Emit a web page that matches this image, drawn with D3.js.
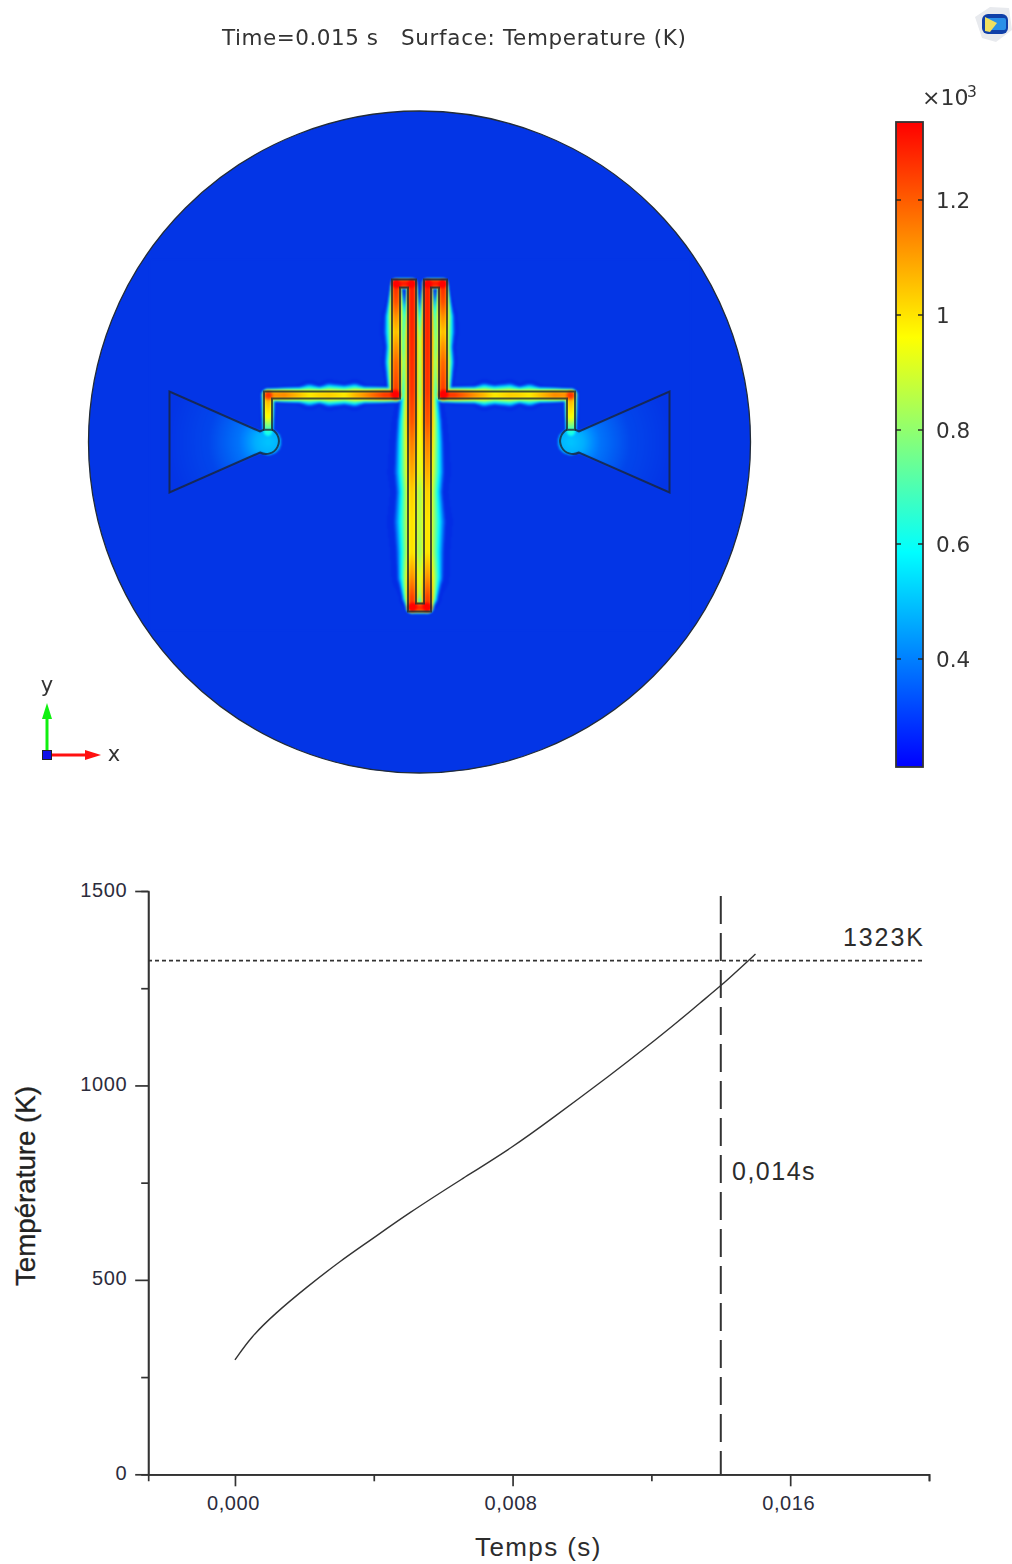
<!DOCTYPE html>
<html><head><meta charset="utf-8">
<script src="https://cdn.jsdelivr.net/npm/d3@7/dist/d3.min.js"></script>
<style>html,body{margin:0;padding:0;background:#fff}svg{display:block}</style>
</head><body>
<svg id="c" width="1012" height="1564"></svg>
<script>
// ---- lower chart data
const curveTime=[0,.00046,.00115,.00202,.00307,.00384,.00499,.00653,.00802,.00908,.0109,.01186,.01282,.0134,.014,.01455,.015];
const curveTemp=[294,353,413,478,551,598,671,759,842,911,1032,1099,1168,1212,1256,1301,1338];
const yMajor=[0,500,1000,1500], yMinor=[250,750,1250];
const xMajor=[0,.008,.016], xMinor=[.004,.012,.02];
const limitTemp=1323, limitTime=.014;
// ---- colour legend data
const barTicks=[.4,.6,.8,1,1.2];
const barRange=[.212,1.336];
const rainbowTemps=[212,587,961,1336];
const rainbowColors=["#0000ff","#00ffff","#ffff00","#ff0000"];
const fieldTemps=[212,293,420,587,961,1336];
const fieldColors=["#0000e0","#0335e6","#0082ff","#00ffff","#ffff00","#ff0000"];
const ambient=293;
// ---- heated trace, model units: centre line x, y, temperature (K), halo width
const traceX=[-15.15,-15.15,-15.15,-13.5,-12,-11,-10,-9,-7.5,-6.5,-5.5,-3.5,-2.35,-2.35,-2.35,-2.35,-2.35,-2.35,-2.35,-.75,-.75,-.75,-.75,-.75,-.75,-.75,-.75,-.75,-.75,-.75,-.75,.8,.8,.8,.8,.8,.8,.8,.8,.8,.8,.8,.8,2.35,2.35,2.35,2.35,2.35,2.35,2.35,3.5,5.5,6.5,7.5,9,10,11,12,13.5,15.15,15.15,15.15];
const traceY=[1.05,2.5,4.7,4.7,4.7,4.7,4.7,4.7,4.7,4.7,4.7,4.7,4.7,8,9.5,11,12.5,14,15.85,15.85,10,5,2,0,-3,-5,-8,-11,-13.5,-15.5,-16.55,-16.55,-15.5,-13.5,-11,-8,-5,-3,0,2,5,10,15.85,15.85,14,12.5,11,9.5,8,4.7,4.7,4.7,4.7,4.7,4.7,4.7,4.7,4.7,4.7,4.7,2.5,1.05];
const traceT=[640,960,1120,1140,1060,1000,1030,1040,1000,1070,1130,1260,1270,1190,1130,1060,1130,1230,1300,1310,1290,1270,1220,1160,1090,1040,1010,1010,1130,1250,1280,1280,1250,1130,1010,1010,1040,1090,1160,1220,1270,1290,1310,1300,1230,1130,1060,1130,1190,1270,1260,1130,1070,1000,1040,1030,1000,1060,1140,1120,960,640];
const traceHalo=[.2,.25,.3,.38,.45,.75,.5,.8,.62,.8,.5,.45,.38,.75,.62,.8,.75,.45,.15,.15,.75,.75,1.1,1.25,1.38,1.2,1.42,1.2,1.1,.62,.25,.25,.7,1.2,1.25,1.42,1.12,1.3,1.2,1.05,.7,.75,.15,.15,.45,.75,.8,.62,.75,.38,.45,.5,.8,.62,.8,.5,.75,.45,.38,.3,.25,.2];
// conductor outline, model units
const outlineX=[-15.55,-15.55,-2.75,-2.75,-.35,-.35,.45,.45,2.75,2.75,15.55,15.55];
const outlineY=[1.23,5.05,5.05,16.25,16.25,-16.15,-16.15,16.25,16.25,5.05,5.05,1.23];
const innerX=[14.75,14.75,1.95,1.95,1.15,1.15,-1.15,-1.15,-1.95,-1.95,-14.75,-14.75];
const innerY=[1.23,4.35,4.35,15.45,15.45,-16.95,-16.95,15.45,15.45,4.35,4.35,1.23];
// triangular pads and bulb
const padX=[-15.95,-25,-25,-15.95], padY=[1.05,5.05,-5.05,-1.05];
const bulbX=15.1, bulbR=1.28;
const padDist=[0,1.3,3,6,10], padTemp=[510,480,395,320,293];

const diskR=33.1;
const svg=d3.select("#c");
const mx=d3.scaleLinear().domain([-diskR,diskR]).range([88.5,750.5]);
const my=d3.scaleLinear().domain([-diskR,diskR]).range([773,111]);
const barY=d3.scaleLinear().domain(barRange).range([767,122]);
const fieldColor=d3.scaleLinear().domain(fieldTemps).range(fieldColors).clamp(true);
const padT=d3.scaleLinear().domain(padDist).range(padTemp).clamp(true);

const upper=svg.append("g").style("filter","blur(0.55px)");
const ink="#333";
const dj="'DejaVu Sans',sans-serif", ar="'Liberation Sans',Arial,sans-serif";

// title
upper.append("text").attr("x",222).attr("y",45).attr("font-family",dj).attr("font-size",21.5).attr("fill",ink).attr("textLength",156).text("Time=0.015 s");
upper.append("text").attr("x",401).attr("y",45).attr("font-family",dj).attr("font-size",21.5).attr("fill",ink).attr("textLength",285).text("Surface: Temperature (K)");

// ---- field
upper.append("circle").attr("cx",mx(0)).attr("cy",my(0)).attr("r",mx(diskR)-mx(0)).attr("fill",fieldColor(ambient));

const segs=[];
let leg=0;
for(let i=0;i<traceX.length-1;i++){
  const horiz=traceY[i]===traceY[i+1];
  if(i>0&&horiz!==(traceY[i-1]===traceY[i]))leg++;
  segs.push({leg,x0:mx(traceX[i]),y0:my(traceY[i]),x1:mx(traceX[i+1]),y1:my(traceY[i+1]),
    t0:traceT[i],t1:traceT[i+1],h0:(mx(traceHalo[i])-mx(0)),h1:(mx(traceHalo[i+1])-mx(0))});
}
const halfW=4, hx0=150,hy0=260,hw=540,hh=370;
const pads=[padX.map((x,i)=>[mx(x),my(padY[i])]),padX.map((x,i)=>[mx(-x),my(padY[i])])];
const bulbs=[[mx(-bulbX),my(0)],[mx(bulbX),my(0)]];
const cv=document.createElement("canvas");cv.width=hw;cv.height=hh;
const ctx=cv.getContext("2d");const im=ctx.createImageData(hw,hh);
const lut=d3.range(0,1500).map(t=>{const c=d3.rgb(fieldColor(t));return [c.r,c.g,c.b];});
const amb=ambient;
for(let j=0;j<hh;j++)for(let i=0;i<hw;i++){
  const px=hx0+i+.5,py=hy0+j+.5;
  let acc=0,fringe=0,cur=-1,best=0;
  for(const s of segs){
    if(s.leg!==cur){acc+=best*best*best*best;best=0;cur=s.leg;}
    const dx=s.x1-s.x0,dy=s.y1-s.y0;
    const u=Math.max(0,Math.min(1,((px-s.x0)*dx+(py-s.y0)*dy)/(dx*dx+dy*dy)));
    const qx=s.x0+u*dx,qy=s.y0+u*dy;
    const d=Math.hypot(px-qx,py-qy);
    if(d>28)continue;
    const tc=s.t0+u*(s.t1-s.t0),h=s.h0+u*(s.h1-s.h0);
    let f=0;
    if(d<=halfW) f=1-.12*(d/halfW)*(d/halfW);
    else{
      const r=(d-halfW)/h;
      if(r<1) f=.88*(1-r);
      else if(r<1.5) fringe=1;
    }
    if(f>0)best=Math.max(best,(tc-amb)*f);
  }
  acc+=best*best*best*best;
  let T=amb+Math.min(1050,Math.sqrt(Math.sqrt(acc)));
  if(acc===0&&fringe)T=amb-14;
  for(let k=0;k<2;k++){
    if(d3.polygonContains(pads[k],[px,py])||Math.hypot(px-bulbs[k][0],py-bulbs[k][1])<=bulbR*10){
      const pd=Math.hypot(px-bulbs[k][0],py-bulbs[k][1])/10;
      T=Math.max(T,padT(pd));
    }
  }
  const c=lut[Math.max(0,Math.min(1499,Math.round(T)))];
  const o=(j*hw+i)*4;im.data[o]=c[0];im.data[o+1]=c[1];im.data[o+2]=c[2];im.data[o+3]=255;
}
ctx.putImageData(im,0,0);
upper.append("image").attr("x",hx0).attr("y",hy0).attr("width",hw).attr("height",hh).attr("href",cv.toDataURL()).style("filter","blur(1px)");

// outlines
const line=d3.line().x(d=>mx(d[0])).y(d=>my(d[1]));
const outlinePts=outlineX.map((x,i)=>[x,outlineY[i]]).concat(innerX.map((x,i)=>[x,innerY[i]]));
const strokeAttrs={fill:"none",stroke:"#1c2430","stroke-width":2,"stroke-opacity":.78};
const sty=(s)=>{for(const k in strokeAttrs)s.attr(k,strokeAttrs[k]);return s;};
sty(upper.append("path").attr("d",line(outlinePts)+"Z").attr("stroke-linejoin","miter"));
const rPx=mx(bulbR)-mx(0);
[-1,1].forEach(side=>{
  const mapped=padX.map((x,i)=>[side<0?x:-x,padY[i]]);
  const trEdge=side<0?-14.75:14.75, tipOuter=side<0?-15.55:15.55;
  let d="M"+mx(tipOuter)+","+my(1.23)+" L"+mx(mapped[0][0])+","+my(mapped[0][1]);
  d+=" L"+mx(mapped[1][0])+","+my(mapped[1][1])+" L"+mx(mapped[2][0])+","+my(mapped[2][1])+" L"+mx(mapped[3][0])+","+my(mapped[3][1]);
  d+=" A"+rPx+","+rPx+" 0 1 "+(side<0?0:1)+" "+mx(trEdge)+","+my(1.23);
  sty(upper.append("path").attr("d",d));
});
upper.append("circle").attr("cx",mx(0)).attr("cy",my(0)).attr("r",mx(diskR)-mx(0)).attr("fill","none").attr("stroke","#222c38").attr("stroke-width",1.3);

// triad
const defs=svg.append("defs");
upper.append("line").attr("x1",47).attr("y1",755).attr("x2",90).attr("y2",755).attr("stroke","#ff1010").attr("stroke-width",3);
upper.append("path").attr("d","M85,750 L101,755 L85,760Z").attr("fill","#ff1010");
upper.append("line").attr("x1",47).attr("y1",755).attr("x2",47).attr("y2",715).attr("stroke","#10f010").attr("stroke-width",3);
upper.append("path").attr("d","M42,719 L47,703 L52,719Z").attr("fill","#10f010");
upper.append("rect").attr("x",42.5).attr("y",750.5).attr("width",9).attr("height",9).attr("fill","#1010e8").attr("stroke","#222").attr("stroke-width",1);
upper.append("text").attr("x",47).attr("y",692).attr("text-anchor","middle").attr("font-family",dj).attr("font-size",21).attr("fill",ink).text("y");
upper.append("text").attr("x",114).attr("y",761).attr("text-anchor","middle").attr("font-family",dj).attr("font-size",21).attr("fill",ink).text("x");

// colour bar
const grad=defs.append("linearGradient").attr("id","bar").attr("x1",0).attr("x2",0).attr("y1",1).attr("y2",0);
rainbowTemps.forEach((t,i)=>grad.append("stop").attr("offset",(t-rainbowTemps[0])/(rainbowTemps[3]-rainbowTemps[0])).attr("stop-color",rainbowColors[i]));
upper.append("rect").attr("x",896).attr("y",122).attr("width",27).attr("height",645).attr("fill","url(#bar)").attr("stroke","#333").attr("stroke-width",1.8);
const barG=upper.append("g");
barTicks.forEach(v=>{
  const yy=Math.round(barY(v));
  barG.append("line").attr("x1",896).attr("x2",901).attr("y1",yy).attr("y2",yy).attr("stroke","#222").attr("stroke-width",1.4);
  barG.append("line").attr("x1",918).attr("x2",923).attr("y1",yy).attr("y2",yy).attr("stroke","#222").attr("stroke-width",1.4);
  barG.append("text").attr("x",936).attr("y",yy+8).attr("font-family",dj).attr("font-size",21.5).attr("fill",ink).text(String(v));
});
upper.append("text").attr("x",922).attr("y",105).attr("font-family",dj).attr("font-size",22).attr("fill",ink).text("×10");
upper.append("text").attr("x",967).attr("y",97).attr("font-family",dj).attr("font-size",15.5).attr("fill",ink).text("3");

// corner icon
upper.append("path").attr("d","M975,17 L990,7 L1009,8 L1012,30 L996,42 L982,38Z").attr("fill","#e8eaee");
upper.append("rect").attr("x",982).attr("y",14).attr("width",26).attr("height",20).attr("rx",6).attr("fill","#1040a8");
upper.append("rect").attr("x",986).attr("y",18).attr("width",20).attr("height",12).attr("rx",2).attr("fill","#2a90e8");
upper.append("path").attr("d","M985,17 L997,23 L990,32 L985,31Z").attr("fill","#f0e060");

// ---- lower chart
const xs=d3.scaleLinear().domain([-.0025,.02]).range([148.2,929]);
const ys=d3.scaleLinear().domain([0,1500]).range([1474.3,891]);
const low=svg.append("g");
const comma=d=>d3.format(".3f")(d).replace(".",",");
const axStyle=(g,fs)=>{g.selectAll("path,line").attr("stroke","#333").attr("stroke-width",1.7);g.selectAll("text").attr("font-family",ar).attr("font-size",fs).attr("fill","#2c2c3c").attr("letter-spacing",.6);};
low.append("g").attr("transform","translate(148.2,0)").call(d3.axisLeft(ys).tickValues(yMinor).tickSize(7).tickFormat(""))
  .call(g=>axStyle(g,20));
low.append("g").attr("transform","translate(148.2,0)").call(d3.axisLeft(ys).tickValues(yMajor).tickSizeInner(13).tickSizeOuter(0).tickPadding(8).tickFormat(d3.format("d")))
  .call(g=>axStyle(g,20)).call(g=>g.selectAll("text").attr("dy","0.25em"));
low.append("g").attr("transform","translate(0,1474.3)").call(d3.axisBottom(xs).tickValues(xMinor).tickSize(7).tickFormat(""))
  .call(g=>axStyle(g,20));
low.append("g").attr("transform","translate(0,1474.3)").call(d3.axisBottom(xs).tickValues(xMajor).tickSizeInner(12).tickSizeOuter(0).tickPadding(10).tickFormat(comma))
  .call(g=>axStyle(g,20)).call(g=>g.selectAll("text").attr("dx","-2"));
const lineC=d3.line().x(d=>xs(d[0])).y(d=>ys(d[1])).curve(d3.curveBasis);
low.append("path").attr("d",lineC(curveTime.map((t,i)=>[t,curveTemp[i]]))).attr("fill","none").attr("stroke","#333").attr("stroke-width",1.4);
low.append("line").attr("x1",148).attr("x2",925).attr("y1",ys(limitTemp)+.8).attr("y2",ys(limitTemp)+.8).attr("stroke","#333").attr("stroke-width",1.6).attr("stroke-dasharray","4 3");
low.append("line").attr("x1",xs(limitTime)).attr("x2",xs(limitTime)).attr("y1",896).attr("y2",1474).attr("stroke","#333").attr("stroke-width",2).attr("stroke-dasharray","28 9");
const lab=(xx,yy,t,fs,ls)=>low.append("text").attr("x",xx).attr("y",yy).attr("font-family",ar).attr("font-size",fs).attr("fill","#2c2c2c").attr("letter-spacing",ls).text(t);
lab(843,946,"1323K",25,1.9);
lab(732,1180,"0,014s",25,1.5);
lab(475,1556,"Temps (s)",26,1.4);
low.append("text").attr("transform","translate(35,1286) rotate(-90)").attr("font-family",ar).attr("font-size",27.7).attr("fill","#222").attr("stroke","#222").attr("stroke-width",.3).text("Température (K)");
</script>
</body></html>
